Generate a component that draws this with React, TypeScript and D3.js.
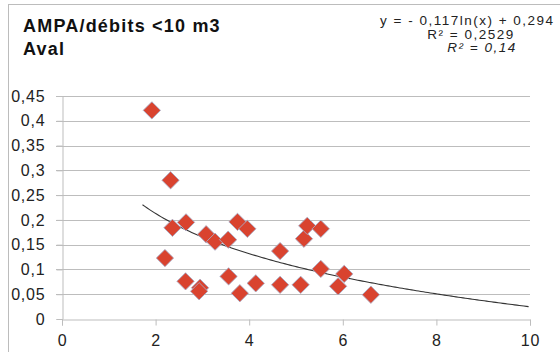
import React, { useEffect, useRef } from 'react';
import * as d3 from 'd3';

// debits (m3) and AMPA concentrations
const debits = [1.92, 2.32, 2.36, 2.2, 2.65, 2.64, 2.95, 2.93, 3.08, 3.27, 3.55, 3.56, 3.75, 3.8, 3.96, 4.14, 4.66, 4.66, 5.1, 5.17, 5.24, 5.53, 5.53, 5.9, 6.03, 6.6];
const ampa = [0.421, 0.28, 0.184, 0.123, 0.195, 0.076, 0.063, 0.056, 0.171, 0.156, 0.16, 0.086, 0.196, 0.052, 0.182, 0.072, 0.137, 0.069, 0.069, 0.162, 0.188, 0.182, 0.101, 0.066, 0.091, 0.049];

const xTicks = [0, 2, 4, 6, 8, 10];
const yTicks = [0, 0.05, 0.1, 0.15, 0.2, 0.25, 0.3, 0.35, 0.4, 0.45];

// log trendline y = a ln(x) + b
const trendA = -0.117;
const trendB = 0.294;
const equationLines = ['y = - 0,117ln(x)  + 0,294', 'R² = 0,2529', 'R² = 0,14'];

const fmt = (v: number) => String(+v.toFixed(2)).replace('.', ',');

const App = () => {
  const ref = useRef<SVGSVGElement>(null);

  useEffect(() => {
    const width = 560;
    const height = 352;
    const margin = { top: 96, right: 30, bottom: 33, left: 62 };
    const svg = d3.select(ref.current);
    svg.selectAll('*').remove();

    const x = d3.scaleLinear().domain([0, 10]).range([margin.left, width - margin.right]);
    const y = d3.scaleLinear().domain([0, 0.45]).range([height - margin.bottom, margin.top]);
    const grid = '#bdbdbd';
    const font = 'Liberation Sans, Arial, sans-serif';

    // chart frame
    svg.append('rect')
      .attr('x', 8.5).attr('y', 4.5)
      .attr('width', 600).attr('height', 400)
      .attr('fill', 'white').attr('stroke', '#bcbcbc');

    // horizontal grid
    svg.append('g')
      .selectAll('line')
      .data(yTicks.slice(1))
      .enter().append('line')
      .attr('x1', x(0) - 6).attr('x2', x(10))
      .attr('y1', d => Math.round(y(d)) + 0.5).attr('y2', d => Math.round(y(d)) + 0.5)
      .attr('stroke', grid);

    // axes
    const yAxis = svg.append('g')
      .attr('transform', `translate(${Math.round(x(0)) + 0.5},0)`)
      .call(d3.axisLeft(y).tickValues(yTicks).tickSize(6).tickPadding(11).tickFormat(d => fmt(+d)));
    const xAxis = svg.append('g')
      .attr('transform', `translate(0,${Math.round(y(0)) + 0.5})`)
      .call(d3.axisBottom(x).tickValues(xTicks).tickSize(6).tickPadding(9).tickFormat(d => String(d)));
    [yAxis, xAxis].forEach(g => {
      g.select('.domain').attr('stroke', grid);
      g.selectAll('.tick line').attr('stroke', grid);
      g.selectAll('.tick text')
        .attr('fill', '#222')
        .style('font-family', font)
        .style('font-size', '16px')
        .style('letter-spacing', '0.8px');
    });

    // trendline
    const x0 = (d3.min(debits) as number) - 0.2;
    const trend = d3.range(x0, 10.0001, 0.05).map(v => [v, trendA * Math.log(v) + trendB]);
    svg.append('path')
      .datum(trend)
      .attr('fill', 'none')
      .attr('stroke', '#333')
      .attr('stroke-width', 1.1)
      .attr('d', d3.line<number[]>().x(d => x(d[0])).y(d => y(d[1])));

    // markers (rotated squares = diamonds)
    svg.append('g')
      .selectAll('path')
      .data(debits.map((d, i) => [d, ampa[i]]))
      .enter().append('path')
      .attr('transform', d => `translate(${x(d[0])},${y(d[1])}) rotate(45)`)
      .attr('d', d3.symbol().type(d3.symbolSquare).size(150)())
      .attr('fill', '#d9432f')
      .attr('stroke', '#a7adc9')
      .attr('stroke-width', 0.8);

    // title
    const title = svg.append('text')
      .style('font-family', font)
      .style('font-size', '18px')
      .style('font-weight', 'bold')
      .style('letter-spacing', '1.2px')
      .attr('fill', '#111');
    title.append('tspan').attr('x', 23).attr('y', 32).text('AMPA/débits <10 m3');
    title.append('tspan').attr('x', 23).attr('y', 55).text('Aval');

    // trendline equation
    svg.append('g')
      .selectAll('text')
      .data(equationLines)
      .enter().append('text')
      .attr('x', (d, i) => (i === 0 ? 380 : i === 1 ? 471 : 482))
      .attr('y', (d, i) => 25 + i * 13.5)
      .attr('text-anchor', (d, i) => (i === 0 ? 'start' : 'middle'))
      .style('font-family', font)
      .style('font-size', '13.5px')
      .style('letter-spacing', '1.5px')
      .style('font-style', (d, i) => (i === 2 ? 'italic' : 'normal'))
      .attr('fill', '#222')
      .text(d => d);
  }, []);

  return (
    <svg
      ref={ref}
      width={560}
      height={352}
      style={{ position: 'absolute', left: 0, top: 0, background: 'white' }}
    />
  );
};

export default App;
